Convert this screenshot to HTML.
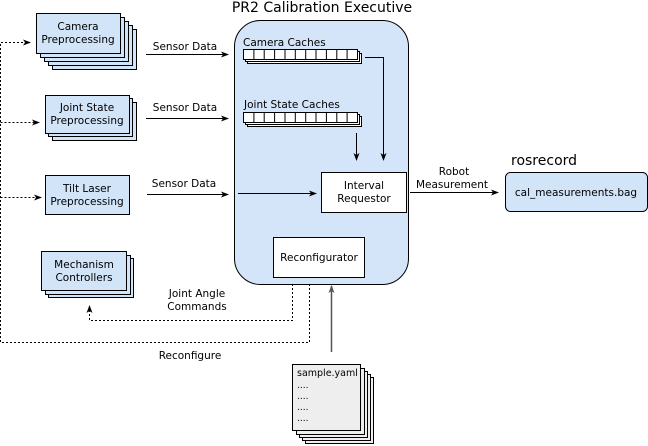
<!DOCTYPE html>
<html><head><meta charset="utf-8"><style>
html,body{margin:0;padding:0;background:#fff;}
svg{display:block;font-family:"DejaVu Sans","Liberation Sans",sans-serif;}
</style></head><body>
<svg width="648" height="446" viewBox="0 0 648 446" xmlns="http://www.w3.org/2000/svg">
<defs>
<marker id="a" markerWidth="8" markerHeight="6" refX="7" refY="3" orient="auto" markerUnits="userSpaceOnUse"><path d="M0,0 L8,3 L0,6 L2,3 z" fill="#000"/></marker>
<marker id="g" markerWidth="8" markerHeight="6" refX="7" refY="3" orient="auto" markerUnits="userSpaceOnUse"><path d="M0,0 L8,3 L0,6 L2,3 z" fill="#555"/></marker>
</defs>
<g stroke="#000" stroke-width="1" fill="#d2e4f8">
<!-- main box -->
<rect x="234.5" y="20.5" width="174" height="264" rx="26" fill="#d5e5f9"/>
<!-- camera preprocessing stack -->
<rect x="52.5" y="29.5" width="84" height="40"/>
<rect x="48.5" y="25.5" width="84" height="40"/>
<rect x="44.5" y="21.5" width="84" height="40"/>
<rect x="40.5" y="17.5" width="84" height="40"/>
<rect x="36.5" y="13.5" width="84" height="40"/>
<!-- joint state -->
<rect x="52.5" y="102.5" width="84" height="38"/>
<rect x="48.5" y="98.5" width="84" height="38"/>
<rect x="45.5" y="95.5" width="84" height="38"/>
<!-- tilt -->
<rect x="45.5" y="175.5" width="84" height="39"/>
<!-- mechanism -->
<rect x="48.5" y="258.5" width="85" height="39"/>
<rect x="45.5" y="255.5" width="85" height="39"/>
<rect x="41.5" y="251.5" width="85" height="39"/>
<!-- rosrecord -->
<rect x="505.5" y="172.5" width="142" height="39" rx="5"/>
</g>
<g stroke="#000" fill="#fff">
<rect x="321.5" y="172.5" width="85" height="40"/>
<rect x="273.5" y="237.5" width="91" height="40"/>
</g>
<!-- yaml stack -->
<g stroke="#000" fill="#eee">
<rect x="305.5" y="377.5" width="68" height="66"/>
<rect x="302.5" y="374.5" width="68" height="66"/>
<rect x="299.5" y="371.5" width="68" height="66"/>
<rect x="296.5" y="368.5" width="68" height="66"/>
<rect x="292.5" y="364.5" width="68" height="66"/>
</g>
<!-- caches -->
<g stroke="#000" fill="#fff">
<rect x="247.5" y="53.5" width="114" height="10"/>
<rect x="245.5" y="51.5" width="114" height="10"/>
<rect x="243.5" y="49.5" width="114" height="10"/>
<path d="M253.9,49.5v10M264.2,49.5v10M274.6,49.5v10M285,49.5v10M295.3,49.5v10M305.7,49.5v10M316,49.5v10M326.4,49.5v10M336.8,49.5v10M347.1,49.5v10"/>
<rect x="247.5" y="116.5" width="114" height="10"/>
<rect x="245.5" y="114.5" width="114" height="10"/>
<rect x="243.5" y="112.5" width="114" height="10"/>
<path d="M253.9,112.5v10M264.2,112.5v10M274.6,112.5v10M285,112.5v10M295.3,112.5v10M305.7,112.5v10M316,112.5v10M326.4,112.5v10M336.8,112.5v10M347.1,112.5v10"/>
</g>
<!-- arrows -->
<g stroke="#000" fill="none" stroke-width="1">
<path d="M146,54.5H228" marker-end="url(#a)"/>
<path d="M146,118.5H228" marker-end="url(#a)"/>
<path d="M147,194.5H228" marker-end="url(#a)"/>
<path d="M238,193.5H316" marker-end="url(#a)"/>
<path d="M365,57.5H383.5V160" marker-end="url(#a)"/>
<path d="M356.5,133V160" marker-end="url(#a)"/>
<path d="M410,192.5H498" marker-end="url(#a)"/>
<path d="M331.5,352V286" stroke="#555" stroke-width="1.5" marker-end="url(#g)"/>
<g stroke-dasharray="2,2">
<path d="M292.5,284V320.5H89.5V306" marker-end="url(#a)"/>
<path d="M309.5,284V342.5H0.5V42.5H30" marker-end="url(#a)"/>
<path d="M0.5,122.5H39" marker-end="url(#a)"/>
<path d="M0.5,197.5H41" marker-end="url(#a)"/>
</g>
</g>
<!-- text -->
<g font-size="10.5" fill="#000" text-anchor="middle">
<text x="322" y="12" font-size="14">PR2 Calibration Executive</text>
<text x="78" y="30">Camera</text><text x="78" y="43">Preprocessing</text>
<text x="87" y="111">Joint State</text><text x="87" y="124">Preprocessing</text>
<text x="87" y="192">Tilt Laser</text><text x="87" y="205">Preprocessing</text>
<text x="84" y="268">Mechanism</text><text x="84" y="281">Controllers</text>
<text x="185" y="50">Sensor Data</text>
<text x="185" y="111">Sensor Data</text>
<text x="184" y="187">Sensor Data</text>
<text x="364" y="189">Interval</text><text x="364" y="202">Requestor</text>
<text x="319" y="261">Reconfigurator</text>
<text x="454" y="175">Robot</text><text x="452" y="188">Measurement</text>
<text x="576" y="196">cal_measurements.bag</text>
<text x="197" y="297">Joint Angle</text><text x="197" y="310">Commands</text>
<text x="190" y="359">Reconfigure</text>
</g>
<g font-size="10.5" fill="#000">
<text x="243" y="46">Camera Caches</text>
<text x="244" y="108">Joint State Caches</text>
<text x="511" y="165" font-size="14">rosrecord</text>
<text x="297" y="376" font-size="9.5">sample.yaml</text>
<text x="297" y="388" font-size="9">....</text>
<text x="297" y="399" font-size="9">....</text>
<text x="297" y="410" font-size="9">....</text>
<text x="297" y="421" font-size="9">....</text>
</g>
</svg>
</body></html>
